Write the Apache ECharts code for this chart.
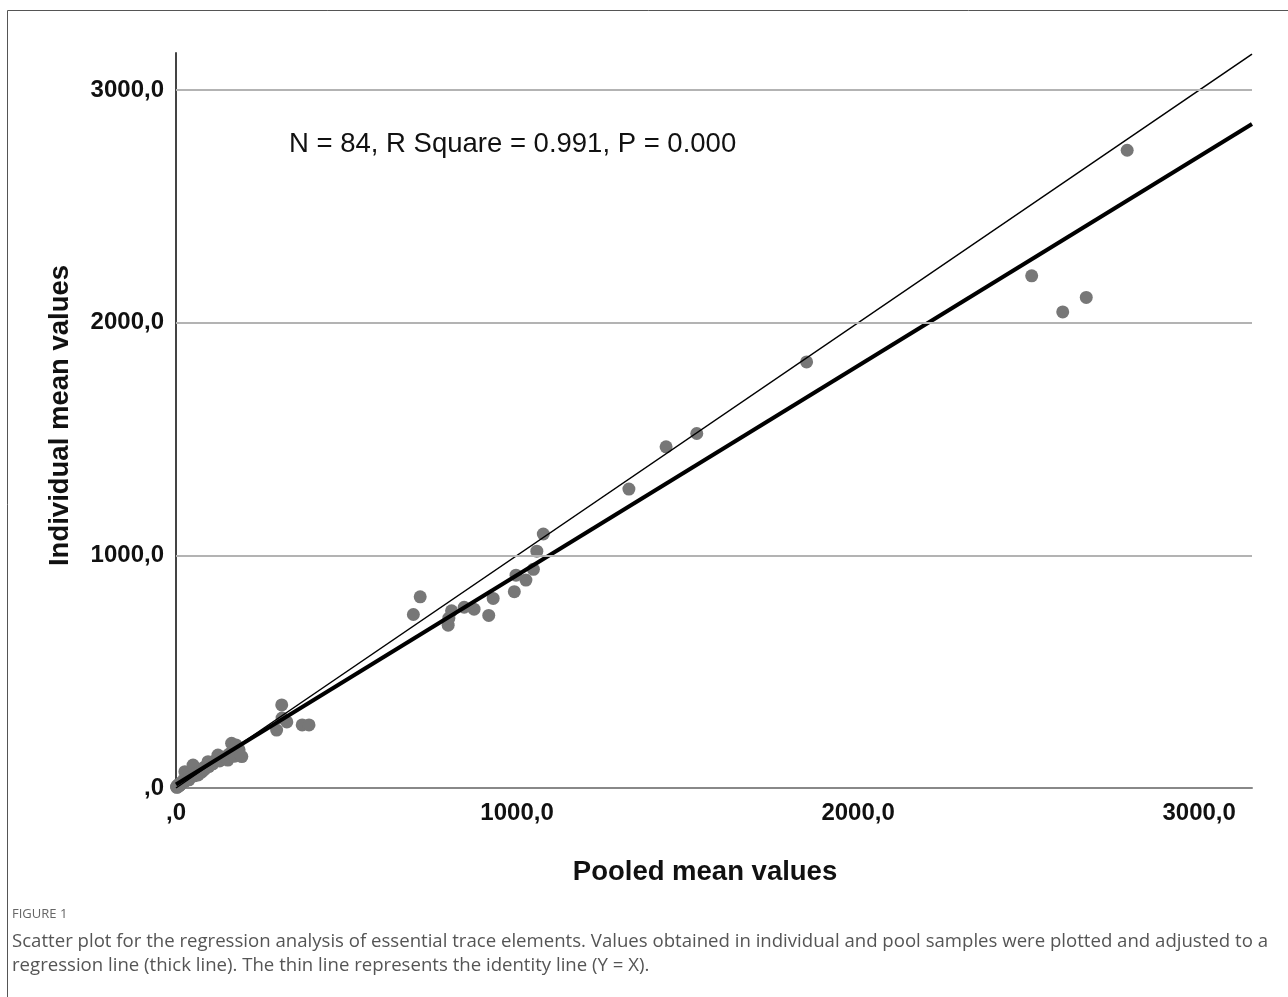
<!DOCTYPE html>
<html>
<head>
<meta charset="utf-8">
<script src="https://cdn.jsdelivr.net/npm/echarts@6/dist/echarts.min.js"></script>
<style>
html,body{margin:0;padding:0;background:#fff;}
#chart{width:1288px;height:997px;}
</style>
</head>
<body>
<div id="chart"></div>
<script>
// ---- data ----
const pooledMean = [
  1.5,2.2,3.1,4.0,5.2,6.0,7.5,8.3,9.8,11.2,12.5,14.0,15.8,17.0,19.5,22,24.5,26,29,32,
  35,38,41,45,48,50,54,58,62,65,70,75,79,84,90,94,96,102,108,115,123,128,135,141,147,
  152,156,160,163,168,172,176,178,185,193,
  310,325,295,311,370,390,
  1077,1058,1048,1026,997,992,930,917,874,845,808,798,800,716,696,
  1328,1437,1527,1849,2509,2600,2669,2789
];
const individualMean = [
  4.1,6.3,2.8,9.5,5.9,12.4,8.1,15.2,10.6,17.8,13.0,21.5,19.3,21.0,24.8,34.0,27.5,70.0,31.2,36.5,
  39.0,35.2,64.0,48.5,55.0,99.0,52.3,60.1,66.0,56.0,72.5,68.0,86.0,80.4,97.0,113.0,92.0,101.5,104.0,118.0,142.0,116.0,124.0,133.0,129.0,
  120.0,146.0,139.0,192.0,151.0,137.0,185.0,156.0,164.0,135.0,
  357,284,249,301,271,271,
  1092,1018,940,894,915,844,815,742,769,777,762,700,730,822,746,
  1285,1467,1524,1832,2202,2047,2109,2742
];
const tickValues = [0, 1000, 2000, 3000];
const axisMaxX = 3155;
const axisMaxY = 3160;
const regSlope = 0.9;
const regIntercept = 15;
const annotation = 'N = 84, R Square = 0.991, P = 0.000';
const xTitle = 'Pooled mean values';
const yTitle = 'Individual mean values';
const captionHead = 'FIGURE 1';
const captionText = 'Scatter plot for the regression analysis of essential trace elements. Values obtained in individual and pool samples were plotted and adjusted to a\nregression line (thick line). The thin line represents the identity line (Y = X).';

// ---- chart ----
const points = pooledMean.map((x, i) => [x, individualMean[i]]);
const fmt = v => {
  if (tickValues.indexOf(v) < 0) return '';
  return v === 0 ? ',0' : v.toFixed(1).replace('.', ',');
};
const chart = echarts.init(document.getElementById('chart'), null, {renderer: 'canvas'});
const labelFont = {fontFamily: 'Liberation Sans, Arial, sans-serif', fontWeight: 'bold', fontSize: 24, color: '#111'};
const titleFont = {fontFamily: 'Liberation Sans, Arial, sans-serif', fontWeight: 'bold', fontSize: 27.5, color: '#111'};
chart.setOption({
  animation: false,
  grid: {left: 176, top: 53, width: 1076, height: 735, containLabel: false},
  graphic: [
    {type: 'rect', shape: {x: 7.5, y: 10.5, width: 1320, height: 1020}, style: {fill: null, stroke: '#555', lineWidth: 1}, silent: true, z: -10},
    {type: 'text', left: 289, top: 130, style: {text: annotation, font: '27.5px "Liberation Sans", Arial, sans-serif', fill: '#111'}},
    {type: 'text', left: 12, top: 908, style: {text: captionHead, font: '13px "Open Sans", sans-serif', fill: '#666'}},
    {type: 'text', left: 12, top: 930, style: {text: captionText, font: '18.6px "Open Sans", sans-serif', fill: '#555', lineHeight: 24}}
  ],
  xAxis: {
    type: 'value', min: 0, max: axisMaxX, interval: 1000,
    name: xTitle, nameLocation: 'middle', nameGap: 70,
    nameTextStyle: Object.assign({padding: [0, 18, 0, 0]}, titleFont),
    axisLine: {show: true, onZero: false, lineStyle: {color: '#888', width: 2}},
    axisTick: {show: false},
    splitLine: {show: false},
    axisLabel: Object.assign({margin: 13, formatter: fmt, showMaxLabel: false}, labelFont)
  },
  yAxis: {
    type: 'value', min: 0, max: axisMaxY, interval: 1000,
    name: yTitle, nameLocation: 'middle', nameGap: 102, nameRotate: 90,
    nameTextStyle: Object.assign({padding: [0, 0, 0, 10]}, titleFont),
    axisLine: {show: true, onZero: false, lineStyle: {color: '#444', width: 2}},
    axisTick: {show: false},
    splitLine: {show: false},
    axisLabel: Object.assign({margin: 12, formatter: fmt, showMaxLabel: false}, labelFont)
  },
  series: [
    {
      type: 'line', data: [], silent: true, z: 1,
      markLine: {
        silent: true, symbol: 'none', animation: false,
        label: {show: false},
        lineStyle: {color: '#b3b3b3', width: 2, type: 'solid'},
        data: tickValues.filter(v => v > 0).map(v => ({yAxis: v}))
      }
    },
    {
      type: 'scatter', data: points, symbol: 'circle', symbolSize: 13, z: 2,
      itemStyle: {color: '#777', opacity: 1}
    },
    {
      type: 'line', data: [[0, 0], [axisMaxX, axisMaxX]], symbol: 'none', z: 3,
      lineStyle: {color: '#000', width: 1.5}
    },
    {
      type: 'line', data: [[0, regIntercept], [axisMaxX, regIntercept + regSlope * axisMaxX]], symbol: 'none', z: 4,
      lineStyle: {color: '#000', width: 4}
    }
  ]
});
</script>
</body>
</html>
